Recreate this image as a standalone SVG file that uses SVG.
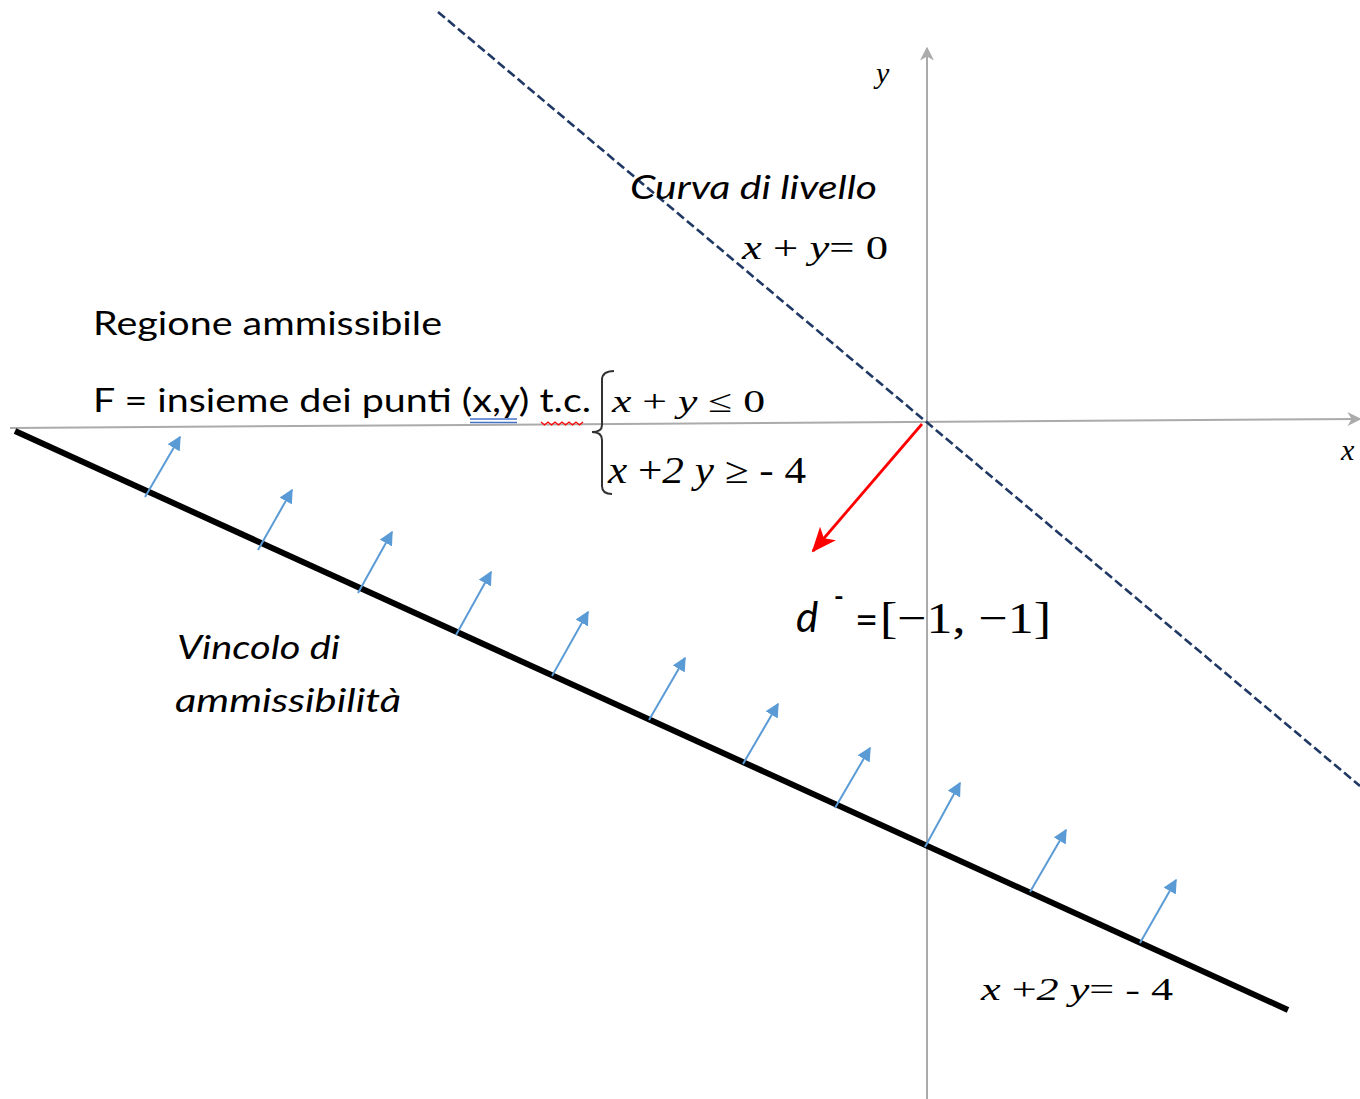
<svg xmlns="http://www.w3.org/2000/svg" width="1360" height="1099" viewBox="0 0 1360 1099">
<style>
.sans{font-family:Lato,"Open Sans","Liberation Sans",sans-serif;fill:#000}
.serif{font-family:"Liberation Serif","Times New Roman",serif;fill:#000}
.it{font-style:italic}
.axis{stroke:#ABABAB;stroke-width:2;fill:none}
.norm{stroke:#5B9BD5;stroke-width:2;fill:none;marker-end:url(#blueHead)}
</style>
<defs>
<marker id="blueHead" viewBox="0 0 10 10" refX="9" refY="5" markerWidth="7" markerHeight="7" orient="auto" markerUnits="strokeWidth">
<path d="M0,0 L10,5 L0,10 Z" fill="#5B9BD5"/>
</marker>
<marker id="grayHead" viewBox="0 0 10 10" refX="9" refY="5" markerWidth="7" markerHeight="7" orient="auto" markerUnits="strokeWidth">
<path d="M0,0 L10,5 L0,10 L3,5 Z" fill="#ABABAB"/>
</marker>
<marker id="redHead" viewBox="0 0 12 10" refX="11" refY="5" markerWidth="9" markerHeight="8" orient="auto" markerUnits="strokeWidth">
<path d="M0,0 L12,5 L0,10 L3,5 Z" fill="#FF0000"/>
</marker>
</defs>
<rect width="1360" height="1099" fill="#fff"/>

<g id="connectors">
<line id="x-axis" class="axis" x1="10" y1="428" x2="1360" y2="419" marker-end="url(#grayHead)"/>
<line id="y-axis" class="axis" x1="927" y1="1099" x2="927" y2="48" marker-end="url(#grayHead)"/>
<line id="level-curve" x1="438" y1="12" x2="1360" y2="786" stroke="#1F3864" stroke-width="2.6" stroke-dasharray="9,4"/>
<line id="constraint" x1="15" y1="431" x2="1288" y2="1010" stroke="#000" stroke-width="6"/>
<line class="norm" x1="145" y1="497" x2="180" y2="437"/>
<line class="norm" x1="258" y1="550" x2="292" y2="490"/>
<line class="norm" x1="358" y1="593" x2="392" y2="532"/>
<line class="norm" x1="456" y1="635" x2="491" y2="572"/>
<line class="norm" x1="552" y1="676" x2="588" y2="612"/>
<line class="norm" x1="649" y1="720" x2="685" y2="658"/>
<line class="norm" x1="743" y1="764" x2="778" y2="704"/>
<line class="norm" x1="835" y1="808" x2="870" y2="748"/>
<line class="norm" x1="925" y1="847" x2="960" y2="783"/>
<line class="norm" x1="1030" y1="892" x2="1066" y2="830"/>
<line class="norm" x1="1140" y1="943" x2="1176" y2="880"/>
<line id="direction" x1="922" y1="424" x2="813" y2="551" stroke="#FF0000" stroke-width="2.8" marker-end="url(#redHead)"/>
</g>

<g id="axis-labels">
<text class="serif it" x="876" y="83" font-size="30">y</text>
<text class="serif it" x="1341" y="460" font-size="30">x</text>
</g>

<g id="level-curve-label">
<text class="sans it" x="630" y="199" font-size="33" textLength="247" lengthAdjust="spacingAndGlyphs">Curva di livello</text>
<text class="serif" x="742" y="259" font-size="34" textLength="146" lengthAdjust="spacingAndGlyphs"><tspan font-style="italic">x</tspan> + <tspan font-style="italic">y</tspan>= 0</text>
</g>

<g id="region">
<text class="sans" x="93" y="335" font-size="33" textLength="349" lengthAdjust="spacingAndGlyphs">Regione ammissibile</text>
<text class="sans" x="93" y="412" font-size="33" textLength="498" lengthAdjust="spacingAndGlyphs">F = insieme dei punti (x,y) t.c.</text>
<line x1="470" y1="419" x2="517" y2="419" stroke="#4472C4" stroke-width="1.3"/>
<line x1="470" y1="422.5" x2="517" y2="422.5" stroke="#4472C4" stroke-width="1.3"/>
<path d="M541,422 l3.5,3 l3.5,-3 l3.5,3 l3.5,-3 l3.5,3 l3.5,-3 l3.5,3 l3.5,-3 l3.5,3 l3.5,-3 l3.5,3 l3.5,-3" fill="none" stroke="#FF0000" stroke-width="1.3"/>
<path d="M614,371 Q602,371 602,380 L602,425 Q602,432 592,432 Q602,432 602,440 L602,486 Q602,494 612,494" fill="none" stroke="#333" stroke-width="2"/>
<text class="serif" x="612" y="412" font-size="32" textLength="153" lengthAdjust="spacingAndGlyphs"><tspan font-style="italic">x</tspan> + <tspan font-style="italic">y</tspan> ≤ 0</text>
<text class="serif" x="608" y="483" font-size="37" textLength="198" lengthAdjust="spacingAndGlyphs"><tspan font-style="italic">x</tspan> +<tspan font-style="italic">2 y</tspan> ≥ - 4</text>
</g>

<g id="direction-label">
<text class="sans it" x="796" y="632" font-size="42">d</text>
<text class="sans" x="834" y="606" font-size="26" font-weight="bold">-</text>
<text class="sans" x="855" y="634" font-size="40">=</text>
<text class="serif" x="880" y="633" font-size="44" textLength="171" lengthAdjust="spacingAndGlyphs">[−1, −1]</text>
</g>

<g id="constraint-label">
<text class="sans it" x="177" y="659" font-size="33" textLength="163" lengthAdjust="spacingAndGlyphs">Vincolo di</text>
<text class="sans it" x="175" y="712" font-size="33" textLength="226" lengthAdjust="spacingAndGlyphs">ammissibilità</text>
<text class="serif" x="981" y="1000" font-size="32" textLength="192" lengthAdjust="spacingAndGlyphs"><tspan font-style="italic">x</tspan> +<tspan font-style="italic">2 y</tspan>= - 4</text>
</g>
</svg>
